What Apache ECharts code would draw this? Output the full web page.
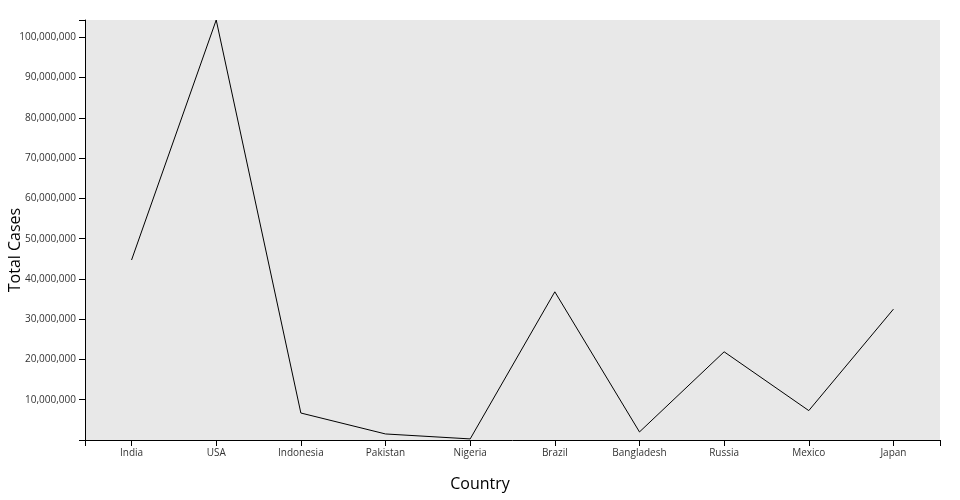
<!DOCTYPE html>
<html>
<head>
<meta charset="utf-8">
<script src="https://cdn.jsdelivr.net/npm/echarts@6/dist/echarts.min.js"></script>
<style>html,body{margin:0;padding:0;background:#fff;}#c{width:960px;height:500px;}</style>
</head>
<body>
<div id="c"></div>
<script>
var categories = ['India','USA','Indonesia','Pakistan','Nigeria','Brazil','Bangladesh','Russia','Mexico','Japan'];
var totalCases = [44700000, 104300000, 6700000, 1500000, 270000, 36800000, 2000000, 21900000, 7300000, 32500000];
var yTickStep = 10000000;
var xTitle = 'Country';
var yTitle = 'Total Cases';

var yMax = Math.max.apply(null, totalCases);
var font = '"Open Sans", "Noto Sans", sans-serif';
var chart = echarts.init(document.getElementById('c'), null, {renderer: 'canvas'});
// band layout: padding 0.1
var L = 85, R = 940, W = R - L, n = categories.length;
var step = W / (n - 0.1 + 0.2);
var firstCenter = L + 0.1 * step + (step * 0.9) / 2;
var innerLeft = firstCenter - step / 2;
var innerRight = 960 - (innerLeft + step * n);

chart.setOption({
  animation: false,
  grid: [
    {left: L, right: 960 - R, top: 20, bottom: 60, show: true, backgroundColor: '#e8e8e8', borderWidth: 0},
    {left: innerLeft, right: innerRight, top: 20, bottom: 60, show: false}
  ],
  xAxis: [
    {type: 'value', gridIndex: 0, min: 0, max: 1, interval: 1,
     axisLine: {show: true, lineStyle: {color: '#000', width: 1}},
     axisTick: {show: true, length: 6, lineStyle: {color: '#000'}},
     axisLabel: {show: false}, splitLine: {show: false}},
    {type: 'category', gridIndex: 1, data: categories, boundaryGap: true,
     axisLine: {show: false},
     axisTick: {show: true, alignWithLabel: true, length: 6, lineStyle: {color: '#000'}},
     axisLabel: {color: '#333', fontSize: 10, fontFamily: font, margin: 8},
     splitLine: {show: false}}
  ],
  yAxis: [
    {type: 'value', gridIndex: 0, min: 0, max: yMax, interval: yTickStep,
     axisLine: {show: true, lineStyle: {color: '#000', width: 1}},
     axisTick: {show: true, length: 6, lineStyle: {color: '#000'}},
     axisLabel: {color: '#333', fontSize: 10, fontFamily: font, margin: 9,
       formatter: function (v) { if (v === 0 || v % yTickStep !== 0) return ''; return v.toLocaleString('en-US'); }},
     splitLine: {show: false}},
    {type: 'value', gridIndex: 1, min: 0, max: yMax, show: false}
  ],
  graphic: [
    {type: 'text', left: 'center', top: 476, style: {text: xTitle, fontSize: 16, fontFamily: font, fill: '#000'}},
    {type: 'text', x: 15, y: 250, rotation: Math.PI / 2, style: {text: yTitle, fontSize: 16, fontFamily: font, fill: '#000', align: 'center', verticalAlign: 'middle'}}
  ],
  series: [{
    type: 'line', xAxisIndex: 1, yAxisIndex: 1, data: totalCases,
    showSymbol: false, symbol: 'none',
    lineStyle: {color: '#000', width: 1}
  }]
});
</script>
</body>
</html>
